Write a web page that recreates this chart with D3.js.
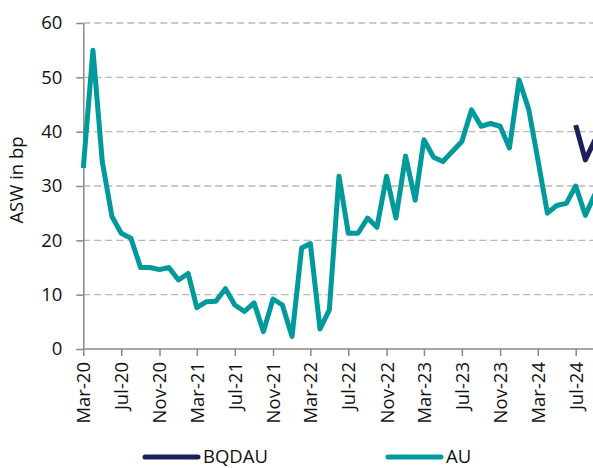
<!DOCTYPE html>
<html>
<head>
<meta charset="utf-8">
<script src="https://cdn.jsdelivr.net/npm/d3@7"></script>
<style>
  html, body { margin: 0; padding: 0; background: #fff; }
  svg { display: block; font-family: "Open Sans", "Liberation Sans", sans-serif; }
</style>
</head>
<body>
<div id="chart"></div>
<script>
// monthly observations, Mar-20 onwards
const months = d3.timeMonths(new Date(2020, 2, 1), new Date(2024, 9, 1));
const auValues = [
  33.3, 55.0, 34.5, 24.4, 21.3, 20.4, 15.0, 15.0, 14.6, 15.0,
  12.7, 13.9, 7.6, 8.7, 8.8, 11.1, 8.1, 6.9, 8.5, 3.2,
  9.2, 8.1, 2.3, 18.6, 19.4, 3.7, 7.2, 31.8, 21.3, 21.3,
  24.1, 22.4, 31.8, 24.1, 35.5, 27.4, 38.5, 35.3, 34.5, 36.4,
  38.2, 44.0, 41.0, 41.5, 41.0, 37.0, 49.5, 44.1, 35.0, 25.0,
  26.4, 26.8, 30.0, 24.6, 28.5
];
const bqdauValues = auValues.map(() => null);
bqdauValues[52] = 41.2; bqdauValues[53] = 34.8; bqdauValues[54] = 38.5;
const yTicks = [0, 10, 20, 30, 40, 50, 60];
const tickMonths = d3.timeMonths(new Date(2020, 2, 1), new Date(2024, 8, 1), 4);
const fmtMonth = d3.timeFormat("%b-%y");

const series = [
  { name: "BQDAU", color: "#1b1f5b", values: bqdauValues },
  { name: "AU", color: "#00999c", values: auValues },
];

const W = 593, H = 468;
const svg = d3.select("#chart").append("svg").attr("width", W).attr("height", H);

const x = d3.scaleTime().domain([new Date(2020, 2, 1), new Date(2024, 6, 1)]).range([83.3, 575.7]);
const y = d3.scaleLinear().domain([0, 60]).range([349, 23]);
const xEnd = x(new Date(2024, 10, 1));

// gridlines
svg.append("g").selectAll("line").data(yTicks.filter((d) => d > 0)).join("line")
  .attr("x1", x.range()[0]).attr("x2", xEnd)
  .attr("y1", (d) => y(d)).attr("y2", (d) => y(d))
  .attr("stroke", "#b8b8b8").attr("stroke-width", 1.4).attr("stroke-dasharray", "7 4");

// y axis
const gy = svg.append("g").attr("transform", `translate(${x.range()[0]},0)`)
  .call(d3.axisLeft(y).tickValues(yTicks).tickSize(7).tickPadding(14).tickSizeOuter(0));
gy.select(".domain").attr("stroke", "#898989").attr("stroke-width", 1.5);
gy.selectAll(".tick line").attr("stroke", "#898989").attr("stroke-width", 1.5);
gy.selectAll(".tick text").attr("font-size", 18.5).attr("fill", "#111")
  .attr("font-family", "Open Sans, sans-serif");

// x axis
const gx = svg.append("g").attr("transform", `translate(0,${y(0)})`)
  .call(d3.axisBottom(x).tickValues(tickMonths).tickFormat(fmtMonth).tickSize(7).tickSizeOuter(0));
gx.select(".domain").remove();
gx.append("line").attr("x1", x.range()[0]).attr("x2", xEnd)
  .attr("stroke", "#898989").attr("stroke-width", 1.5);
gx.selectAll(".tick line").attr("stroke", "#898989").attr("stroke-width", 1.5);
gx.selectAll(".tick text").attr("font-size", 18.5).attr("fill", "#111")
  .attr("font-family", "Open Sans, sans-serif")
  .attr("transform", "rotate(-90)").attr("text-anchor", "end")
  .attr("x", -13).attr("y", 0).attr("dy", "0.35em");

// y title
svg.append("text").attr("transform", `translate(17,180) rotate(-90)`)
  .attr("text-anchor", "middle").attr("dy", "0.35em")
  .attr("font-size", 18.5).attr("fill", "#111").text("ASW in bp");

// lines
const line = d3.line().defined((d) => d.v != null)
  .x((d) => x(d.date)).y((d) => y(d.v));
series.forEach((s) => {
  svg.append("path")
    .datum(months.map((m, i) => ({ date: m, v: s.values[i] ?? null })))
    .attr("d", line).attr("fill", "none").attr("stroke", s.color)
    .attr("stroke-width", 5).attr("stroke-linejoin", "round");
});

// legend
const legendX = [145, 388];
const lg = svg.append("g").selectAll("g").data(series).join("g")
  .attr("transform", (d, i) => `translate(${legendX[i]},457)`);
lg.append("line").attr("x1", 0).attr("x2", 53)
  .attr("stroke", (d) => d.color).attr("stroke-width", 5).attr("stroke-linecap", "round");
lg.append("text").attr("x", 58).attr("dy", "0.35em").attr("font-size", 18.5)
  .attr("fill", "#111").text((d) => d.name);
</script>
</body>
</html>
